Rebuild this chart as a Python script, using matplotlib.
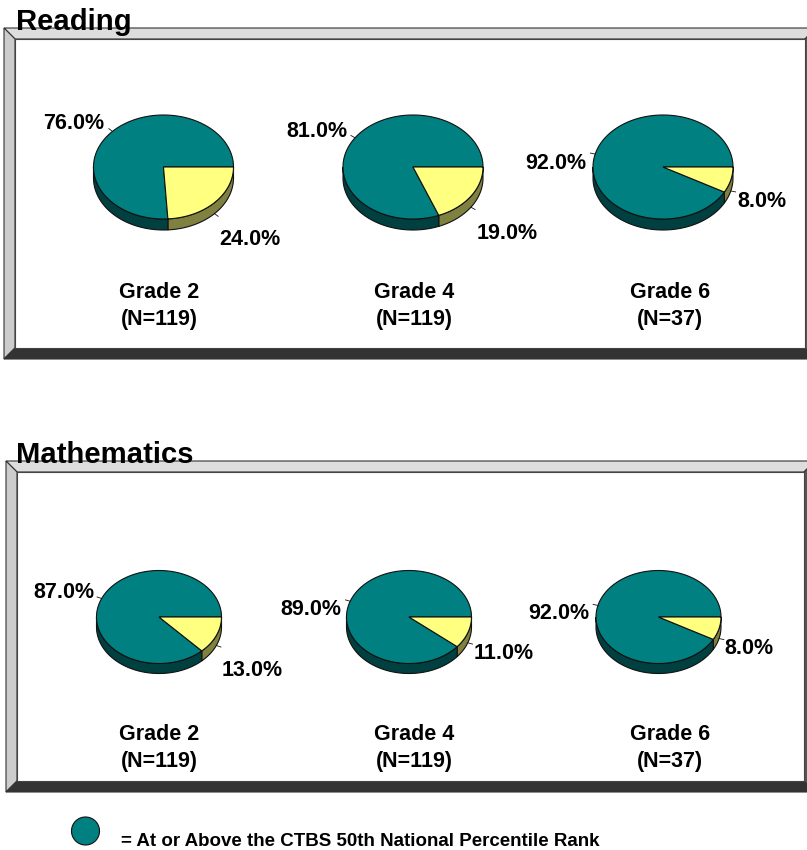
#!/usr/bin/env python3
"""Reading / Mathematics percentile pies, drawn on one pixel-sized axes."""
import numpy as np
import matplotlib
matplotlib.use("Agg")
import matplotlib.pyplot as plt
from matplotlib.patches import Polygon

plt.rcParams["font.family"] = ["Liberation Sans", "DejaVu Sans"]

W, H = 807, 850

GRADES = ["Grade 2", "Grade 4", "Grade 6"]
READING_ABOVE = [76.0, 81.0, 92.0]
READING_BELOW = [24.0, 19.0, 8.0]
READING_N = [119, 119, 37]
MATH_ABOVE = [87.0, 89.0, 92.0]
MATH_BELOW = [13.0, 11.0, 8.0]
MATH_N = [119, 119, 37]

TEAL = "#008080"
TEAL_DARK = "#004040"
YELLOW = "#FFFF80"
YELLOW_DARK = "#808040"
EDGE = "#111111"
LABEL_SIZE = 15.5


def arc(cx, cy, rx, ry, a0, a1):
    # angles clockwise from 3 o'clock, y axis points down
    t = np.radians(np.linspace(a0, a1, max(int(abs(a1 - a0)) * 2, 2)))
    return np.column_stack([cx + rx * np.cos(t), cy + ry * np.sin(t)])


def side_wall(ax, cx, cy, rx, ry, depth, a0, a1, color):
    if a1 <= a0:
        return
    top = arc(cx, cy, rx, ry, a0, a1)
    bottom = top[::-1] + [0, depth]
    ax.add_patch(Polygon(np.vstack([top, bottom]), closed=True, fc=color, ec=EDGE, lw=0.8))


def pie3d(ax, cx, cy, rx, ry, depth, above, below, lab_above, lab_below):
    a_end = below / (above + below) * 360
    side_wall(ax, cx, cy, rx, ry, depth, 0, min(a_end, 180), YELLOW_DARK)
    side_wall(ax, cx, cy, rx, ry, depth, a_end, 180, TEAL_DARK)
    centre = np.array([[cx, cy]])
    ax.add_patch(Polygon(np.vstack([centre, arc(cx, cy, rx, ry, a_end, 360)]),
                         closed=True, fc=TEAL, ec=EDGE, lw=0.8))
    ax.add_patch(Polygon(np.vstack([centre, arc(cx, cy, rx, ry, 0, a_end)]),
                         closed=True, fc=YELLOW, ec=EDGE, lw=0.8))

    # leader lines at the middle of each slice
    for mid, extra, lab, val in [(a_end + (360 - a_end) / 2, 0, lab_above, above),
                                 (a_end / 2, depth, lab_below, below)]:
        c, s = np.cos(np.radians(mid)), np.sin(np.radians(mid))
        x0, y0 = cx + rx * c, cy + ry * s + extra
        ax.plot([x0, x0 + 5 * c], [y0, y0 + 4 * s], color=EDGE, lw=0.6)
        ax.text(lab[0], lab[1], f"{val:.1f}%", ha="center", va="center",
                fontsize=LABEL_SIZE, fontweight="bold", color="black")


def panel(ax, x0, y0, x1, y1, b):
    xi0, yi0, xi1, yi1 = x0 + b, y0 + b, x1 - b, y1 - b
    faces = [
        ([(x0, y0), (x1, y0), (xi1, yi0), (xi0, yi0)], "#DDDDDD"),
        ([(x0, y0), (xi0, yi0), (xi0, yi1), (x0, y1)], "#CCCCCC"),
        ([(x0, y1), (xi0, yi1), (xi1, yi1), (x1, y1)], "#333333"),
        ([(x1, y0), (xi1, yi0), (xi1, yi1), (x1, y1)], "#555555"),
    ]
    for pts, col in faces:
        ax.add_patch(Polygon(pts, closed=True, fc=col, ec="#333333", lw=0.8))
    ax.add_patch(Polygon([(xi0, yi0), (xi1, yi0), (xi1, yi1), (xi0, yi1)],
                         closed=True, fc="white", ec="#444444", lw=0.8))


fig = plt.figure(figsize=(W / 100, H / 100), dpi=100)
ax = fig.add_axes([0, 0, 1, 1])
ax.set_xlim(0, W)
ax.set_ylim(H, 0)
ax.axis("off")

panel(ax, 4, 28, 816, 359, 11)
panel(ax, 6, 461, 815, 792, 11)

ax.text(16, 30, "Reading", fontsize=21.1, fontweight="bold", va="baseline", ha="left")
ax.text(16, 463, "Mathematics", fontsize=21.1, fontweight="bold", va="baseline", ha="left")

# layout of the two rows
read_cx = [163.5, 413, 663]
read_above_pos = [(74, 123.5), (317, 131.5), (556, 163.5)]
read_below_pos = [(250, 239.5), (507, 233.5), (762, 201.5)]
read_text_x = [159, 414, 670]
math_cx = [159, 409, 658.5]
math_above_pos = [(64, 592.5), (311, 609.5), (559, 613.5)]
math_below_pos = [(252, 670.5), (504, 653.5), (749, 648.5)]
math_text_x = [159, 414, 670]

for i, g in enumerate(GRADES):
    pie3d(ax, read_cx[i], 167, 70, 52, 11, READING_ABOVE[i], READING_BELOW[i],
          read_above_pos[i], read_below_pos[i])
    ax.text(read_text_x[i], 293, g, ha="center", va="center", fontsize=LABEL_SIZE, fontweight="bold")
    ax.text(read_text_x[i], 320, f"(N={READING_N[i]})", ha="center", va="center",
            fontsize=LABEL_SIZE, fontweight="bold")

    pie3d(ax, math_cx[i], 617, 62.5, 46.5, 10, MATH_ABOVE[i], MATH_BELOW[i],
          math_above_pos[i], math_below_pos[i])
    ax.text(math_text_x[i], 734.5, g, ha="center", va="center", fontsize=LABEL_SIZE, fontweight="bold")
    ax.text(math_text_x[i], 761, f"(N={MATH_N[i]})", ha="center", va="center",
            fontsize=LABEL_SIZE, fontweight="bold")

# legend key
ax.add_patch(Polygon(arc(85.5, 831, 14, 14, 0, 360), closed=True, fc=TEAL, ec=EDGE, lw=0.8))
ax.text(121, 841.5, "= At or Above the CTBS 50th National Percentile Rank",
        fontsize=13.5, fontweight="bold", va="center", ha="left")

fig.savefig("out.png", dpi=100)
